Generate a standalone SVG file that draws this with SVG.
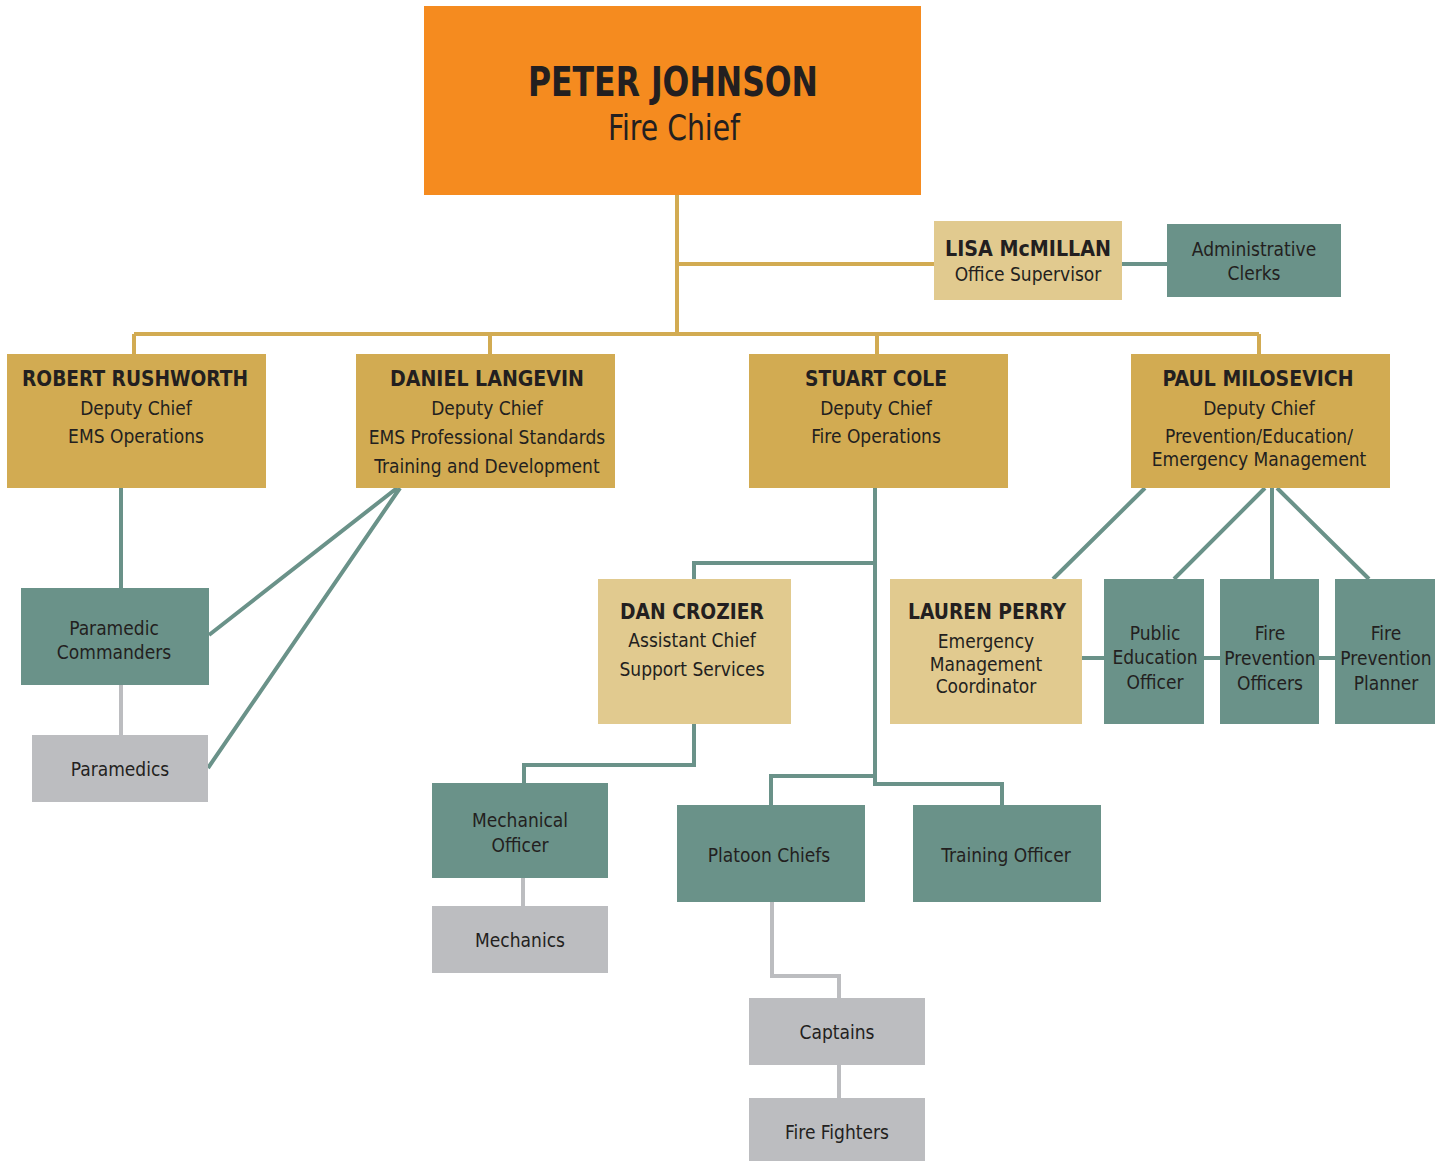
<svg xmlns="http://www.w3.org/2000/svg" width="1450" height="1162" viewBox="0 0 1450 1162">
<style>
text{font-family:"Liberation Sans Narrow","DejaVu Sans Condensed",sans-serif;font-stretch:condensed;fill:#231f20;text-anchor:middle}
.b{font-weight:bold;font-size:22px}
.s{font-size:19px}
.orange{fill:#F58B1F}
.gold{fill:#D2AB52}
.tan{fill:#E1CA8F}
.teal{fill:#6A9289}
.grey{fill:#BCBDC0}
.cg{stroke:#D2AB52;stroke-width:4;fill:none}
.ct{stroke:#6A9289;stroke-width:4;fill:none}
.cr{stroke:#BCBDC0;stroke-width:4;fill:none}
</style>
<rect width="1450" height="1162" fill="#fff"/>
<g id="connectors">
<path class="cg" d="M677 195V334M677 264H934M134 334H1259M134 334V354M490 334V354M877 334V354M1259 334V354"/>
<path class="ct" d="M1122 264H1167"/>
<path class="ct" d="M121 488V588"/>
<path class="cr" d="M121 685V735"/>
<path class="ct" d="M397 488L209 635M400 488L208 768"/>
<path class="ct" d="M875 488V784H1002V805M875 776H771V805M875 563H694V579"/>
<path class="ct" d="M694 724V765H524V783"/>
<path class="cr" d="M523 878V906"/>
<path class="cr" d="M772 902V976H839V998M839 1065V1098"/>
<path class="ct" d="M1145 488L1053 579M1265 488L1174 579M1272 488V579M1277 488L1369 579"/>
<path class="ct" d="M1082 658H1104M1204 658H1220M1319 658H1335"/>
</g>
<g id="peter"><rect class="orange" x="424" y="6" width="497" height="189"/>
<text x="673" y="96" style="font-weight:bold;font-size:40px" textLength="290" lengthAdjust="spacingAndGlyphs">PETER JOHNSON</text>
<text x="674" y="140" style="font-size:36px" textLength="132" lengthAdjust="spacingAndGlyphs">Fire Chief</text></g>
<g id="lisa"><rect class="tan" x="934" y="221" width="188" height="79"/>
<text class="b" x="1028" y="256" textLength="166" lengthAdjust="spacingAndGlyphs">LISA McMILLAN</text>
<text class="s" x="1028" y="281">Office Supervisor</text></g>
<g id="clerks"><rect class="teal" x="1167" y="224" width="174" height="73"/>
<text class="s" x="1254" y="256">Administrative</text>
<text class="s" x="1254" y="280">Clerks</text></g>
<g id="robert"><rect class="gold" x="7" y="354" width="259" height="134"/>
<text class="b" x="135" y="386" textLength="226" lengthAdjust="spacingAndGlyphs">ROBERT RUSHWORTH</text>
<text class="s" x="136" y="415">Deputy Chief</text>
<text class="s" x="136" y="443">EMS Operations</text></g>
<g id="daniel"><rect class="gold" x="356" y="354" width="259" height="134"/>
<text class="b" x="487" y="386" textLength="194" lengthAdjust="spacingAndGlyphs">DANIEL LANGEVIN</text>
<text class="s" x="487" y="415">Deputy Chief</text>
<text class="s" x="487" y="444">EMS Professional Standards</text>
<text class="s" x="487" y="473">Training and Development</text></g>
<g id="stuart"><rect class="gold" x="749" y="354" width="259" height="134"/>
<text class="b" x="876" y="386" textLength="142" lengthAdjust="spacingAndGlyphs">STUART COLE</text>
<text class="s" x="876" y="415">Deputy Chief</text>
<text class="s" x="876" y="443">Fire Operations</text></g>
<g id="paul"><rect class="gold" x="1131" y="354" width="259" height="134"/>
<text class="b" x="1258" y="386" textLength="191" lengthAdjust="spacingAndGlyphs">PAUL MILOSEVICH</text>
<text class="s" x="1259" y="415">Deputy Chief</text>
<text class="s" x="1259" y="443">Prevention/Education/</text>
<text class="s" x="1259" y="466">Emergency Management</text></g>
<g id="paramedic-commanders"><rect class="teal" x="21" y="588" width="188" height="97"/>
<text class="s" x="114" y="635">Paramedic</text>
<text class="s" x="114" y="659">Commanders</text></g>
<g id="paramedics"><rect class="grey" x="32" y="735" width="176" height="67"/>
<text class="s" x="120" y="776">Paramedics</text></g>
<g id="dan"><rect class="tan" x="598" y="579" width="193" height="145"/>
<text class="b" x="692" y="619" textLength="144" lengthAdjust="spacingAndGlyphs">DAN CROZIER</text>
<text class="s" x="692" y="647">Assistant Chief</text>
<text class="s" x="692" y="676">Support Services</text></g>
<g id="lauren"><rect class="tan" x="890" y="579" width="192" height="145"/>
<text class="b" x="987" y="619" textLength="158" lengthAdjust="spacingAndGlyphs">LAUREN PERRY</text>
<text class="s" x="986" y="648">Emergency</text>
<text class="s" x="986" y="671">Management</text>
<text class="s" x="986" y="693">Coordinator</text></g>
<g id="public-ed"><rect class="teal" x="1104" y="579" width="100" height="145"/>
<text class="s" x="1155" y="640">Public</text>
<text class="s" x="1155" y="664">Education</text>
<text class="s" x="1155" y="689">Officer</text></g>
<g id="fpo"><rect class="teal" x="1220" y="579" width="99" height="145"/>
<text class="s" x="1270" y="640">Fire</text>
<text class="s" x="1270" y="665">Prevention</text>
<text class="s" x="1270" y="690">Officers</text></g>
<g id="fpp"><rect class="teal" x="1335" y="579" width="100" height="145"/>
<text class="s" x="1386" y="640">Fire</text>
<text class="s" x="1386" y="665">Prevention</text>
<text class="s" x="1386" y="690">Planner</text></g>
<g id="mech-officer"><rect class="teal" x="432" y="783" width="176" height="95"/>
<text class="s" x="520" y="827">Mechanical</text>
<text class="s" x="520" y="852">Officer</text></g>
<g id="mechanics"><rect class="grey" x="432" y="906" width="176" height="67"/>
<text class="s" x="520" y="947">Mechanics</text></g>
<g id="platoon"><rect class="teal" x="677" y="805" width="188" height="97"/>
<text class="s" x="769" y="862">Platoon Chiefs</text></g>
<g id="training"><rect class="teal" x="913" y="805" width="188" height="97"/>
<text class="s" x="1006" y="862">Training Officer</text></g>
<g id="captains"><rect class="grey" x="749" y="998" width="176" height="67"/>
<text class="s" x="837" y="1039">Captains</text></g>
<g id="firefighters"><rect class="grey" x="749" y="1098" width="176" height="63"/>
<text class="s" x="837" y="1139">Fire Fighters</text></g>
</svg>
